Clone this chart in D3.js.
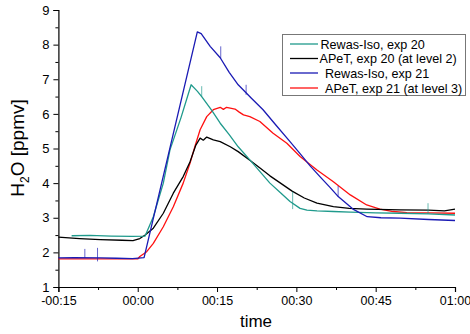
<!DOCTYPE html>
<html><head><meta charset="utf-8">
<script src="https://cdn.jsdelivr.net/npm/d3@7"></script>
<style>body{margin:0;background:#fff}svg{display:block}text{font-family:"Liberation Sans",Arial,sans-serif;fill:#000}</style>
</head><body><svg id="c" width="470" height="334"></svg>
<script>
// time in minutes relative to 00:00, values in ppmv
const seriesNames = ["Rewas-Iso, exp 20","APeT, exp 20 (at level 2)","Rewas-Iso, exp 21","APeT, exp 21 (at level 3)"];
const seriesColors = ["#1f9a8c","#000000","#1a1ab4","#ff1010"];
const xTickValues = [-15,0,15,30,45,60];
const xTickLabels = ["-00:15","00:00","00:15","00:30","00:45","01:00"];
const yTickValues = [1,2,3,4,5,6,7,8,9];

const rewasExp20 = [[-12.5,2.48],[-9,2.49],[-5,2.47],[-1,2.46],[1.4,2.47],[2.95,3.03],[4.84,4.0],[6.1,4.96],[8.2,5.9],[10.1,6.84],[11.3,6.65],[12.1,6.5],[14,6.1],[15.6,5.73],[17.3,5.4],[19.0,5.05],[21.2,4.67],[25.0,4.0],[27,3.72],[28.8,3.47],[30.7,3.27],[32,3.22],[33.9,3.2],[37,3.18],[40.2,3.16],[45,3.14],[49.6,3.13],[55,3.11],[60,3.08]];
const apetExp20 = [[-15,2.44],[-11,2.4],[-7.1,2.37],[-3,2.35],[-0.9,2.34],[0.4,2.4],[1.4,2.5],[2.95,2.70],[4.84,3.13],[6.73,3.71],[8.6,4.19],[9.9,4.62],[11.0,5.10],[11.8,5.30],[12.4,5.24],[13.05,5.33],[14.3,5.25],[15.6,5.2],[17.5,5.05],[19.0,4.91],[21.2,4.66],[23,4.45],[25.0,4.21],[27,4.0],[29.2,3.77],[31.5,3.57],[33.9,3.42],[37.0,3.32],[40,3.27],[43.3,3.25],[49.6,3.23],[55,3.22],[58,3.2],[60,3.25]];
const rewasExp21 = [[-15,1.84],[-12,1.85],[-7,1.84],[-4,1.83],[-1,1.82],[1.2,1.85],[11.27,8.37],[12,8.32],[13.7,7.95],[15.6,7.62],[17.3,7.2],[19.0,6.84],[21.5,6.45],[23.7,6.12],[26,5.7],[28.8,5.2],[30.7,4.85],[32.6,4.5],[34.5,4.18],[36.4,3.87],[37.8,3.63],[40.7,3.25],[43.4,3.03],[46,3.0],[49.6,2.99],[55,2.95],[60,2.92]];
const apetExp21 = [[-15,1.81],[-8,1.81],[-3,1.81],[0,1.81],[0.4,1.88],[1.7,2.02],[2.95,2.26],[4.84,2.74],[6.73,3.32],[8.6,4.0],[9.9,4.58],[10.8,5.05],[11.8,5.54],[13.05,5.92],[14.3,6.12],[15.6,6.19],[16.2,6.13],[16.8,6.19],[18.4,6.14],[19.2,6.05],[20.0,5.97],[21.2,5.92],[23.1,5.78],[25.6,5.44],[28.2,5.15],[30.7,4.77],[33.9,4.38],[37.0,4.04],[40.2,3.66],[43.3,3.37],[45.8,3.25],[48.3,3.18],[50.9,3.15],[55,3.14],[60,3.13]];

// isolated noise spikes: [time, low, high]
const rewasExp20Spikes = [[12.1,6.5,6.8],[29.3,3.25,3.75],[54.9,3.11,3.42]];
const rewasExp21Spikes = [[-10,1.84,2.1],[-7.6,1.74,2.13],[15.7,7.6,7.95],[20.5,6.55,6.84],[37.9,3.62,3.92]];

const svg = d3.select("#c");
const x = d3.scaleLinear().domain([-15,60]).range([58.4,455]);
const y = d3.scaleLinear().domain([1,9]).range([287,10]);

const xAxis = d3.axisBottom(x).tickValues(xTickValues).tickFormat((d,i)=>xTickLabels[i]).tickSize(5).tickPadding(4);
const xMinor = d3.axisBottom(x).tickValues(d3.range(-7.5,60,15)).tickFormat("").tickSize(3);
const yAxis = d3.axisLeft(y).tickValues(yTickValues).tickFormat(d3.format("d")).tickSize(5).tickPadding(4);
const yMinor = d3.axisLeft(y).tickValues(d3.range(1.5,9,1)).tickFormat("").tickSize(3);

function styleAxis(g){
  g.selectAll("path").attr("stroke","#000").attr("stroke-width",1);
  g.selectAll("line").attr("stroke","#000").attr("stroke-width",1);
}
const gx = svg.append("g").attr("transform","translate(0,287)").call(xAxis).call(styleAxis);
gx.selectAll("text").attr("font-size",12.5).attr("font-family","Liberation Sans, Arial, sans-serif").attr("fill","#000");
svg.append("g").attr("transform","translate(0,287)").call(xMinor).call(styleAxis).select("path").remove();
const gy = svg.append("g").attr("transform","translate(58.4,0)").call(yAxis).call(styleAxis);
gy.selectAll("text").attr("font-size",13).attr("font-family","Liberation Sans, Arial, sans-serif").attr("fill","#000");
svg.append("g").attr("transform","translate(58.4,0)").call(yMinor).call(styleAxis).select("path").remove();
svg.selectAll(".domain").attr("stroke-width",1.2);

const line = d3.line().x(d=>x(d[0])).y(d=>y(d[1]));
const allSeries = [rewasExp20, apetExp20, rewasExp21, apetExp21];
const allSpikes = [rewasExp20Spikes, [], rewasExp21Spikes, []];
const drawOrder = [3,1,0,2];
drawOrder.forEach(i=>{
  svg.append("path").datum(allSeries[i]).attr("d",line)
    .attr("fill","none").attr("stroke",seriesColors[i]).attr("stroke-width",1.3)
    .attr("stroke-linejoin","round");
  svg.append("g").selectAll("line").data(allSpikes[i]).join("line")
    .attr("x1",d=>x(d[0])).attr("x2",d=>x(d[0])).attr("y1",d=>y(d[1])).attr("y2",d=>y(d[2]))
    .attr("stroke",seriesColors[i]).attr("stroke-width",0.9).attr("stroke-opacity",0.75);
});

const yl = svg.append("text").attr("transform","translate(24,148) rotate(-90)").attr("text-anchor","middle").attr("font-size",19);
yl.append("tspan").text("H");
yl.append("tspan").attr("font-size",12).attr("dy",5).text("2");
yl.append("tspan").attr("dy",-5).text("O [ppmv]");
svg.append("text").attr("x",256).attr("y",327).attr("text-anchor","middle").attr("font-size",17).text("time");

const lg = svg.append("g");
lg.append("rect").attr("x",282.5).attr("y",34.5).attr("width",183).attr("height",61).attr("fill","#fff").attr("stroke","#777").attr("stroke-width",1);
const rowY = [44,58.5,73,88];
const textX = [320.5,319.5,325,325];
seriesNames.forEach((n,i)=>{
  lg.append("line").attr("x1",290).attr("x2",318).attr("y1",rowY[i]).attr("y2",rowY[i]).attr("stroke",seriesColors[i]).attr("stroke-width",1.3);
  lg.append("text").attr("x",textX[i]).attr("y",rowY[i]+4.5).attr("font-size",12.6).text(n);
});
</script></body></html>
